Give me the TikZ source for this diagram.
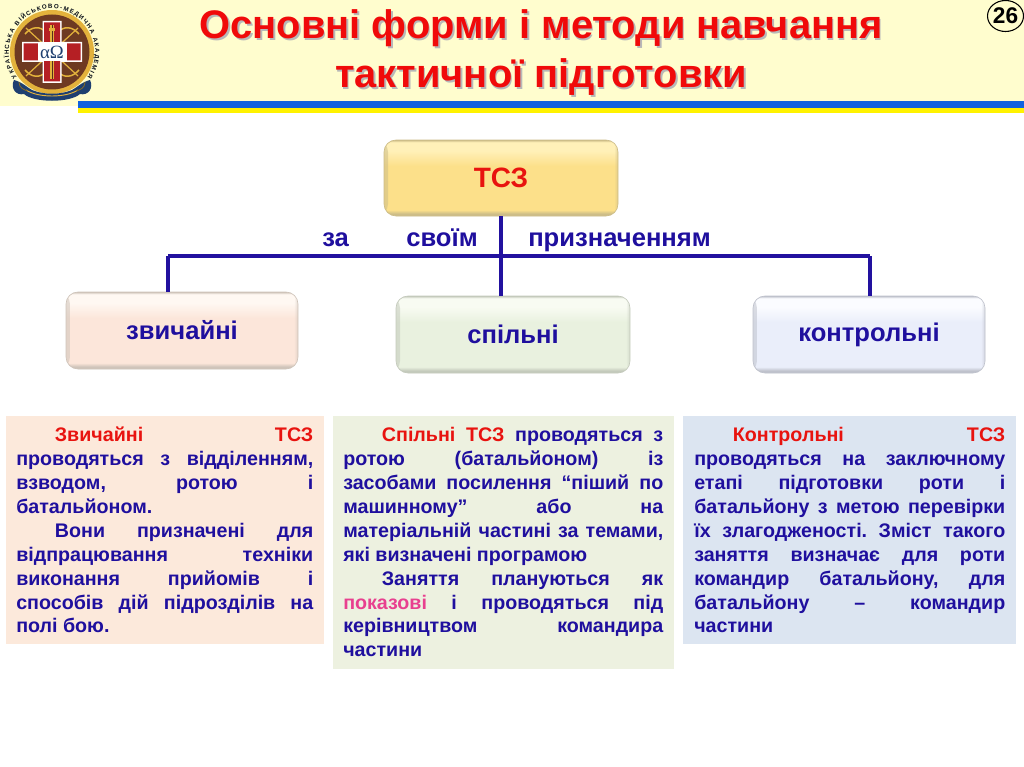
\documentclass[tikz,border=0pt]{standalone}
\usepackage{fontspec}
\setmainfont{Liberation Sans}
\newfontfamily\logoserif{Liberation Serif}
\usetikzlibrary{decorations.text,calc,shapes.geometric,fadings}
\definecolor{navy}{HTML}{1F0F9E}
\definecolor{busblue}{HTML}{22119F}
\definecolor{hotred}{HTML}{E8130F}
\definecolor{titlered}{HTML}{F00A0A}
\definecolor{pinkish}{HTML}{E8408F}
\definecolor{cream}{HTML}{FFFDCE}
\definecolor{flagblue}{HTML}{0F62E0}
\definecolor{flagyellow}{HTML}{FFF200}
\definecolor{panelA}{HTML}{FCE9DB}
\definecolor{panelB}{HTML}{EDF1E0}
\definecolor{panelC}{HTML}{DCE5F1}
\definecolor{logobrown}{HTML}{6E3A22}
\definecolor{logogold}{HTML}{E3B23C}
\definecolor{logored}{HTML}{B51F24}
\definecolor{logoblue}{HTML}{1E3F70}
\newcommand{\mkshade}[4]{%
 \pgfdeclareverticalshading{#1}{100bp}{%
  color(0bp)=(#4); color(25bp)=(#4); color(26.5bp)=(#4);
  color(29bp)=(#2); color(58bp)=(#2); color(68bp)=(#3); color(73.5bp)=(#3); color(75bp)=(#4); color(100bp)=(#4)}}
\definecolor{aface}{HTML}{FCE6DA}\definecolor{alight}{HTML}{FFF8F2}\definecolor{aedge}{HTML}{CFC4BA}
\definecolor{bface}{HTML}{E9F1DF}\definecolor{blight}{HTML}{F8FBF2}\definecolor{bedge}{HTML}{C4CABC}
\definecolor{cface}{HTML}{EAEEFA}\definecolor{clight}{HTML}{FBFCFF}\definecolor{cedge}{HTML}{BFC2CC}
\definecolor{tface}{HTML}{FCE08A}\definecolor{tlight}{HTML}{FFF0B8}\definecolor{tedge}{HTML}{CDBD88}
\mkshade{shA}{aface}{alight}{aedge}
\mkshade{shB}{bface}{blight}{bedge}
\mkshade{shC}{cface}{clight}{cedge}
\mkshade{shT}{tface}{tlight}{tedge}
\tikzset{
 glossy/.style n args={3}{rectangle,rounded corners=9,minimum width=#1,minimum height=77*0.75pt,inner sep=0pt,
   shading=#2,draw=#3,line width=.5pt,font=\bfseries\fontsize{19.2}{21}\selectfont,text=navy,
   path picture={
     \fill[#3,opacity=.55,path fading=east] (path picture bounding box.north west) rectangle ([xshift=3pt]path picture bounding box.south west);
     \fill[#3,opacity=.55,path fading=west] (path picture bounding box.north east) rectangle ([xshift=-3pt]path picture bounding box.south east);
   }},
 bodytext/.style={anchor=north west,inner sep=0pt,align=justify,text=navy,
   font=\bfseries\fontsize{14.75}{17.9}\selectfont},
 busline/.style={draw=busblue,line width=2.3pt},
 lbl/.style={anchor=base west,inner sep=0pt,text=navy,font=\bfseries\fontsize{19.2}{21}\selectfont},
 titletext/.style={anchor=base,inner sep=0pt,font=\bfseries\fontsize{29.9}{34}\selectfont}
}
\newcommand{\rd}[1]{\textcolor{hotred}{#1}}
\newcommand{\pk}[1]{\textcolor{pinkish}{#1}}
\newcommand{\ind}{\hspace*{29pt}}
\newcommand{\setb}{\frenchspacing\tolerance=9999 \hbadness=10000 \hfuzz=8pt \hyphenpenalty=10000 \rule{0pt}{12pt}}
\begin{document}
\begin{tikzpicture}[x=0.75pt,y=-0.75pt]
\useasboundingbox (0,0) rectangle (1024,767);
\fill[white] (0,0) rectangle (1024,767);
% header
\fill[cream] (0,0) rectangle (1024,106);
\fill[flagblue] (78,101) rectangle (1024,108);
\fill[flagyellow] (78,108) rectangle (1024,113);
% logo
\begin{scope}[x=0.75pt,y=0.75pt,shift={(52,-52)}]
 \fill[logogold] (0,0) circle (42);
 \fill[logobrown] (0,0) circle (37.5);
 \draw[logogold,line width=.9] (-26,24) -- (26,-24) (-26,-24) -- (26,24);
 \draw[logogold,line width=1.1] (-27,18) .. controls (-20,26) and (-12,26) .. (-6,20)
   (27,18) .. controls (20,26) and (12,26) .. (6,20)
   (-27,-18) .. controls (-20,-26) and (-12,-26) .. (-6,-20)
   (27,-18) .. controls (20,-26) and (12,-26) .. (6,-20);
 \fill[white] (-30,-10) rectangle (30,10) (-9.5,-31) rectangle (9.5,31);
 \fill[logored] (-28.5,-8.5) rectangle (28.5,8.5) (-8,-29.5) rectangle (8,29.5);
 \fill[logogold] (-1.6,-27) rectangle (1.6,27);
 \fill[logobrown!80!black] (-.5,-27) rectangle (.5,27);
 \fill[logogold] (-3,21) rectangle (3,23.5);
 \fill[white] (-14,-9.5) rectangle (14.5,9.5);
 \node[inner sep=0pt,text=logoblue] (alpha) at (0,0) {\logoserif\fontsize{14}{14}\selectfont αΩ};
 \path[decorate,decoration={text along path,text align=fit to path,
   text={|\bfseries\fontsize{4.6}{5}\selectfont\color{black!80!logoblue}|УКРАЇНСЬКА ВІЙСЬКОВО-МЕДИЧНА АКАДЕМІЯ}}]
   (-35.2,-25) arc[start angle=215.4,end angle=-35.4,radius=43.2];
 % ribbon
 \fill[logoblue] (-38,-28) .. controls (-42,-36) and (-36,-44) .. (-28,-42)
   .. controls (-18,-51) and (18,-51) .. (28,-42) .. controls (36,-44) and (42,-36) .. (38,-28)
   .. controls (30,-30) and (24,-36) .. (20,-38) .. controls (8,-43) and (-8,-43) .. (-20,-38)
   .. controls (-24,-36) and (-30,-30) .. (-38,-28) -- cycle;
 \draw[logogold,line width=.7] (-26,-38) .. controls (-14,-46) and (14,-46) .. (26,-38);
 \draw[logogold!60!black,line width=.6] (-33,-30) .. controls (-33,-36) and (-28,-38) .. (-24,-39)
   (33,-30) .. controls (33,-36) and (28,-38) .. (24,-39);
\end{scope}
% title
\node[titletext,text=black!28] (tshadow1) at (542.6,40.6) {Основні форми і методи навчання};
\node[titletext,text=black!28] (tshadow2) at (542.6,89.6) {тактичної підготовки};
\node[titletext,text=titlered] (title1) at (541,39) {Основні форми і методи навчання};
\node[titletext,text=titlered] (title2) at (541,88) {тактичної підготовки};
% page number
\node[draw=black,fill=cream,ellipse,line width=.8,minimum width=36*0.75pt,minimum height=31*0.75pt,inner sep=0pt,
   font=\bfseries\fontsize{17}{20}\selectfont] (pagenum) at (1005.5,16) {26};
% panels
\fill[panelA] (6,416) rectangle (324,644);
\fill[panelB] (333,416) rectangle (674,669);
\fill[panelC] (683,416) rectangle (1016,644);
\node[bodytext,text width=297*0.75pt] (textA) at (16,425.7) {\setb\ind\rd{Звичайні ТСЗ}\linebreak
 проводяться з відділенням,\linebreak взводом, ротою і\linebreak батальйоном.\par
 \ind Вони призначені для\linebreak відпрацювання техніки\linebreak виконання прийомів і\linebreak
 способів дій підрозділів на\linebreak полі бою.};
\node[bodytext,text width=320*0.75pt] (textB) at (343,425.7) {\setb\ind\rd{Спільні ТСЗ} проводяться з\linebreak
 ротою (батальйоном) із\linebreak засобами посилення “піший по\linebreak машинному” або на\linebreak
 матеріальній частині за темами,\linebreak які визначені програмою\par
 \ind Заняття плануються як\linebreak \pk{показові} і проводяться під\linebreak керівництвом командира\linebreak частини};
\node[bodytext,text width=311*0.75pt] (textC) at (694,425.7) {\setb\ind\rd{Контрольні ТСЗ}\linebreak
 проводяться на заключному\linebreak етапі підготовки роти і\linebreak батальйону з метою перевірки\linebreak
 їх злагодженості. Зміст такого\linebreak заняття визначає для роти\linebreak командир батальйону, для\linebreak
 батальйону – командир\linebreak частини};
% boxes
\node[glossy={234*0.75pt}{shT}{tedge},text=hotred,font=\bfseries\fontsize{21}{24}\selectfont,minimum height=76*0.75pt] (tsz) at (501,178) {\raisebox{-1pt}{ТСЗ}};
\node[glossy={232*0.75pt}{shA}{aedge}] (zv) at (182,330.5) {звичайні};
\node[glossy={234*0.75pt}{shB}{bedge}] (sp) at (513,334.5) {спільні};
\node[glossy={232*0.75pt}{shC}{cedge}] (ko) at (869,334.5) {контрольні};
% connectors
\coordinate (busL) at (168,256);
\coordinate (busR) at (870,256);
\coordinate (trunkB) at (501,296);
\draw[busline] (tsz.south -| trunkB) -- (trunkB);
\draw[busline] (busL) -- (busR);
\draw[busline] (busL) -- (busL |- zv.north);
\draw[busline] (busR) -- (busR |- ko.north);
% labels
\node[lbl] (l1) at (322,246) {за};
\node[lbl] (l2) at (406,246) {своїм};
\node[lbl] (l3) at (528,246) {призначенням};
\end{tikzpicture}
\end{document}
